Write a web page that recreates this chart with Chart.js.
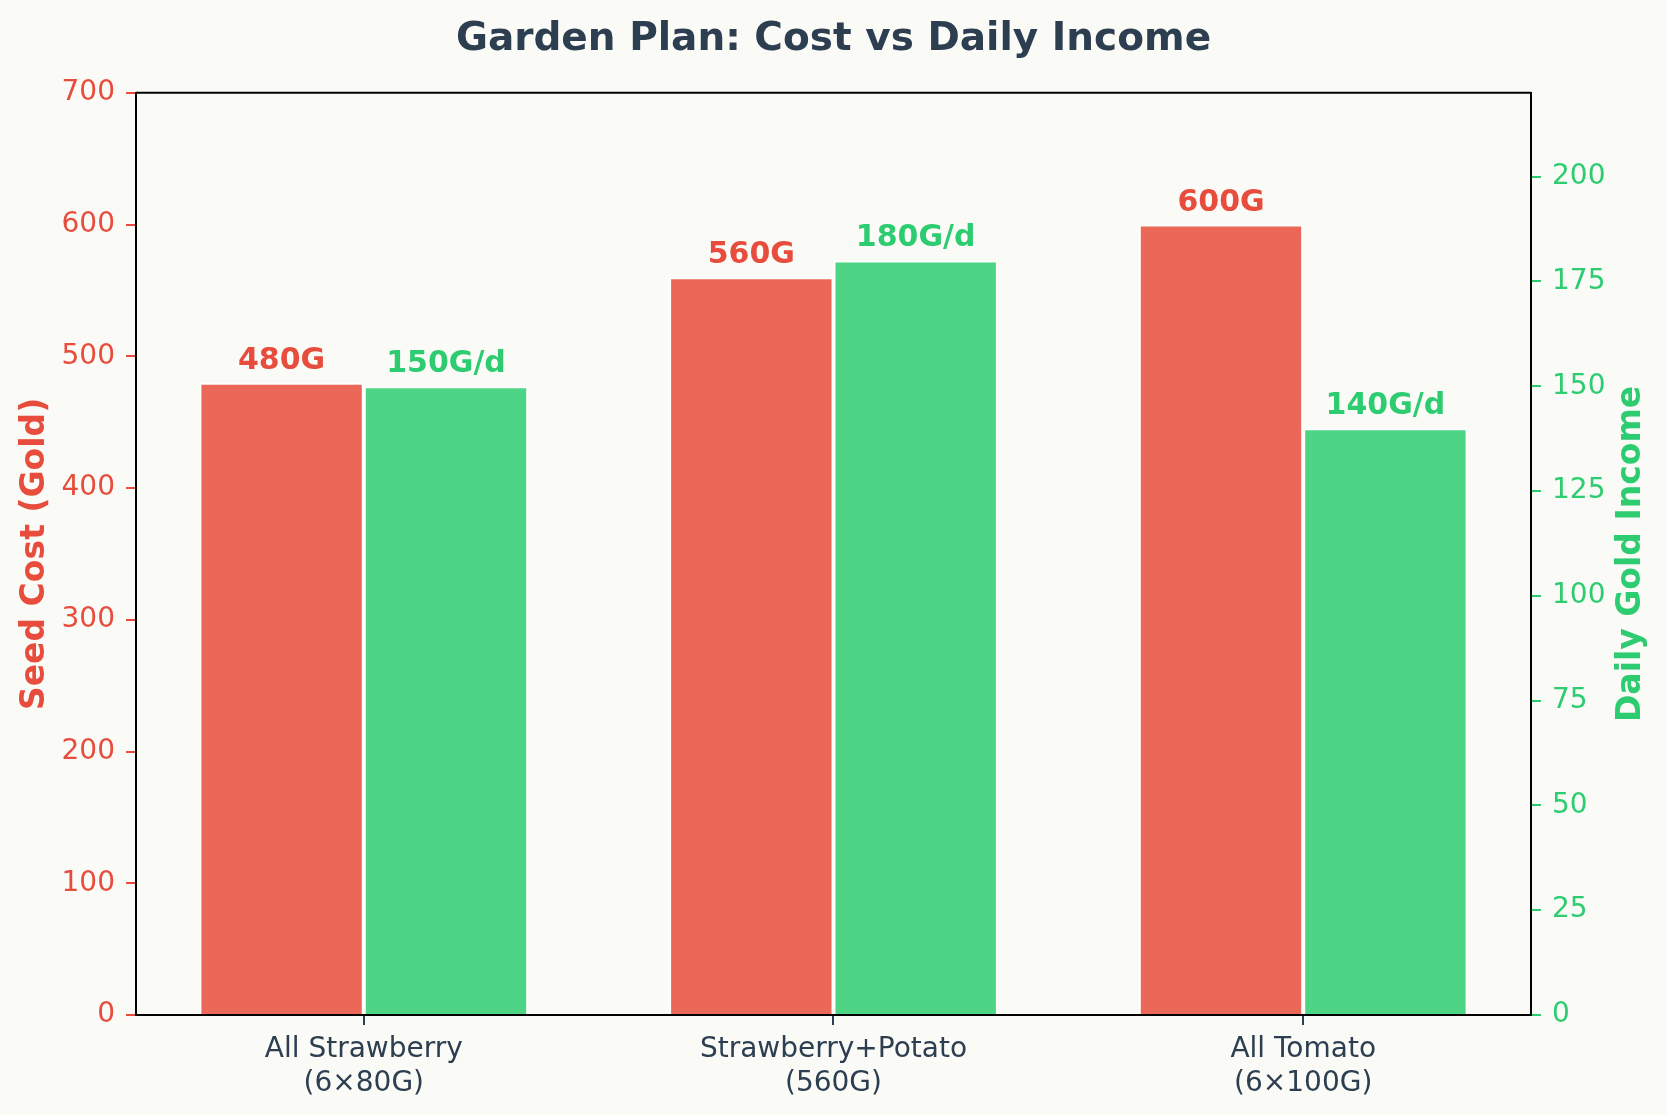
<!DOCTYPE html>
<html>
<head>
<meta charset="utf-8">
<script src="https://cdn.jsdelivr.net/npm/chart.js@4/dist/chart.umd.min.js"></script>
<style>
  html, body { margin: 0; padding: 0; background: #fafaf6; }
  #chart { display: block; }
</style>
</head>
<body>
<canvas id="chart" width="1667" height="1115"></canvas>
<script>
// データ
const plans = [
  ['All Strawberry', '(6×80G)'],
  ['Strawberry+Potato', '(560G)'],
  ['All Tomato', '(6×100G)'],
];
const seedCost = [480, 560, 600];
const dailyIncome = [150, 180, 140];
const costTicks = [0, 100, 200, 300, 400, 500, 600, 700];
const incomeTicks = [0, 25, 50, 75, 100, 125, 150, 175, 200];

const RED = '#e74c3c';
const GREEN = '#2ecc71';
const DARK = '#2c3e50';
const FONT = "'DejaVu Sans', sans-serif";

// 背景・枠・右軸タイトル・棒ラベル
const decorPlugin = {
  id: 'decor',
  beforeDraw(chart) {
    const ctx = chart.ctx;
    ctx.save();
    ctx.fillStyle = '#fafaf6';
    ctx.fillRect(0, 0, chart.width, chart.height);
    ctx.restore();
  },
  afterDatasetsDraw(chart) {
    const ctx = chart.ctx;
    const fmt = [v => v + 'G', v => v + 'G/d'];
    const colors = [RED, GREEN];
    ctx.save();
    ctx.font = `bold 30px ${FONT}`;
    ctx.textAlign = 'center';
    ctx.textBaseline = 'alphabetic';
    chart.data.datasets.forEach((ds, i) => {
      const meta = chart.getDatasetMeta(i);
      ctx.fillStyle = colors[i];
      meta.data.forEach((bar, j) => {
        ctx.fillText(fmt[i](ds.data[j]), bar.x, bar.y - 14);
      });
    });
    ctx.restore();
  },
  afterDraw(chart) {
    const ctx = chart.ctx;
    const a = chart.chartArea;
    ctx.save();
    ctx.strokeStyle = '#000';
    ctx.lineWidth = 2;
    ctx.beginPath();
    ctx.moveTo(a.left, a.top);
    ctx.lineTo(a.right, a.top);
    ctx.stroke();
    // 右軸タイトル (下から上へ)
    ctx.translate(1631, (a.top + a.bottom) / 2);
    ctx.rotate(-Math.PI / 2);
    ctx.fillStyle = GREEN;
    ctx.font = `bold 33px ${FONT}`;
    ctx.textAlign = 'center';
    ctx.textBaseline = 'middle';
    ctx.fillText('Daily Gold Income', 0, 0);
    ctx.restore();
  },
};

new Chart(document.getElementById('chart').getContext('2d'), {
  type: 'bar',
  data: {
    labels: plans,
    datasets: [
      {
        label: 'Seed Cost',
        data: seedCost,
        yAxisID: 'y',
        backgroundColor: 'rgba(231, 76, 60, 0.85)',
        borderColor: 'rgba(255, 255, 255, 0.85)',
        borderWidth: 2,
        borderSkipped: 'bottom',
        barPercentage: 1.0,
        categoryPercentage: 0.7,
      },
      {
        label: 'Daily Income',
        data: dailyIncome,
        yAxisID: 'y1',
        backgroundColor: 'rgba(46, 204, 113, 0.85)',
        borderColor: 'rgba(255, 255, 255, 0.85)',
        borderWidth: 2,
        borderSkipped: 'bottom',
        barPercentage: 1.0,
        categoryPercentage: 0.7,
      },
    ],
  },
  options: {
    responsive: false,
    maintainAspectRatio: false,
    devicePixelRatio: 1,
    animation: false,
    layout: { padding: 0 },
    plugins: {
      legend: { display: false },
      tooltip: { enabled: false },
      title: {
        display: true,
        text: 'Garden Plan: Cost vs Daily Income',
        color: DARK,
        font: { family: FONT, size: 39, weight: 'bold' },
        padding: { top: 16, bottom: 30 },
      },
    },
    scales: {
      x: {
        afterFit: s => { s.height = 100; },
        // 両端の余白を少し狭くする (-0.485 .. 2.485)
        afterBuildTicks: s => { s._startValue = -0.485; s._valueRange = 2.97; },
        grid: {
          display: true,
          offset: false,
          drawOnChartArea: false,
          color: DARK,
          lineWidth: 2,
          tickLength: 10,
        },
        border: { display: true, color: '#000', width: 2 },
        ticks: {
          color: DARK,
          font: { family: FONT, size: 28 },
          padding: 8,
          maxRotation: 0,
        },
      },
      y: {
        position: 'left',
        min: 0,
        max: 700,
        afterFit: s => { s.width = 136; },
        afterBuildTicks: s => { s.ticks = costTicks.map(v => ({ value: v })); },
        grid: {
          drawOnChartArea: false,
          color: RED,
          lineWidth: 2,
          tickLength: 10,
        },
        border: { display: true, color: '#000', width: 2 },
        ticks: {
          color: RED,
          font: { family: FONT, size: 28 },
          padding: 11,
        },
        title: {
          display: true,
          text: 'Seed Cost (Gold)',
          color: RED,
          font: { family: FONT, size: 33, weight: 'bold' },
          padding: { top: 16, bottom: 0 },
        },
      },
      y1: {
        position: 'right',
        min: 0,
        max: 220,
        afterFit: s => { s.width = 136; },
        afterBuildTicks: s => { s.ticks = incomeTicks.map(v => ({ value: v })); },
        grid: {
          drawOnChartArea: false,
          color: GREEN,
          lineWidth: 2,
          tickLength: 10,
        },
        border: { display: true, color: '#000', width: 2 },
        ticks: {
          color: GREEN,
          font: { family: FONT, size: 28 },
          padding: 11,
        },
      },
    },
  },
  plugins: [decorPlugin],
});
</script>
</body>
</html>
